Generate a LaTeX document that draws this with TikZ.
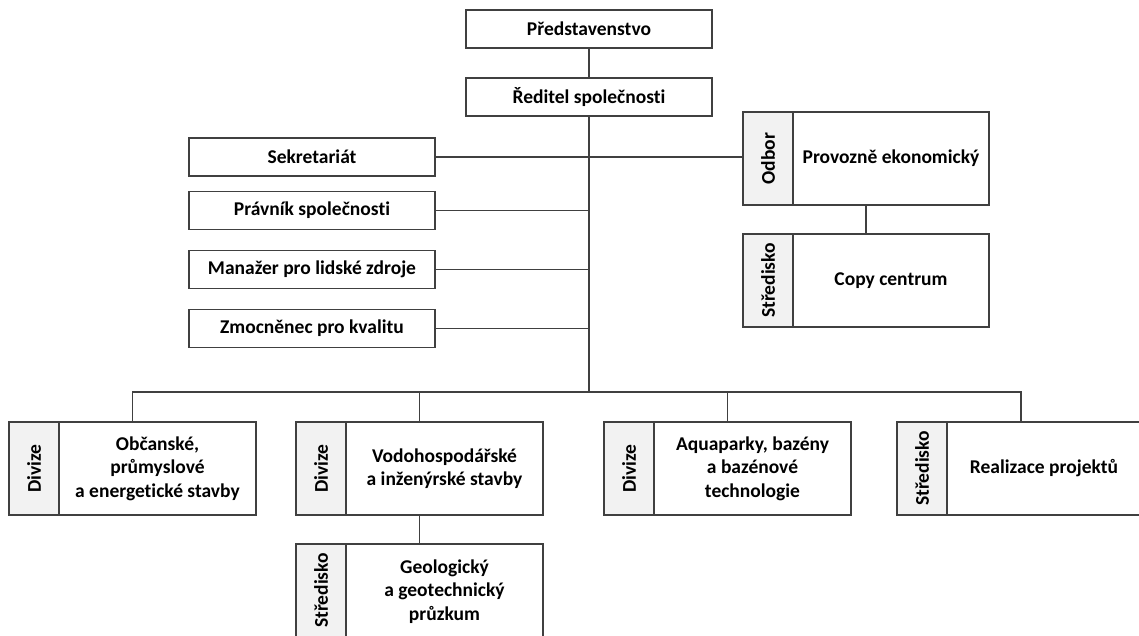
\documentclass[tikz,border=0pt]{standalone}
\usepackage{fontspec}
\setmainfont{Carlito}[Ligatures=NoCommon]
\definecolor{ln}{HTML}{404040}
\definecolor{stripc}{HTML}{F2F2F2}
\begin{document}
\begin{tikzpicture}[x=1pt,y=-1pt,
  every node/.style={font=\bfseries\fontsize{19.5}{23.5}\selectfont, text=black},
  box/.style={draw=ln, line width=1.3pt, fill=white, minimum width=246pt, minimum height=38pt, inner sep=0pt},
  bigbox/.style={draw=ln, line width=1.3pt, fill=white, minimum width=247pt, minimum height=93pt, inner sep=0pt},
  strip/.style={draw=ln, line width=1.3pt, fill=stripc, minimum width=50pt, minimum height=93pt, inner sep=0pt, anchor=north west},
  striptext/.style={rotate=90},
  maintext/.style={align=center, inner sep=0pt},
  conn/.style={draw=ln, line width=1.3pt}
]
\useasboundingbox (0,0) rectangle (1139,635);

% top
\node[box] (pred) at (589,29) {Představenstvo};
\node[box] (red) at (589,97) {Ředitel společnosti};

% staff
\node[box] (sek) at (312,157) {Sekretariát};
\node[box] (prav) at (312,210.5) {Právník společnosti};
\node[box] (man) at (312,269.5) {Manažer pro lidské zdroje};
\node[box] (zmo) at (312,328.5) {Zmocněnec pro kvalitu};

% right branch
\node[bigbox, minimum width=246pt] (odbor) at (866,158.5) {};
\node[strip] (odbors) at (odbor.north west) {};
\node[striptext] at (odbors.center) {Odbor};
\node[maintext] at (891,158.5) {Provozně ekonomický};

\node[bigbox, minimum width=246pt] (copy) at (866,280.5) {};
\node[strip] (copys) at (copy.north west) {};
\node[striptext] at (copys.center) {Středisko};
\node[maintext] at (891,280.5) {Copy centrum};

% divisions
\node[bigbox] (d1) at (132.5,468.5) {};
\node[strip] (d1s) at (d1.north west) {};
\node[striptext] at (d1s.center) {Divize};
\node[maintext] at (157.5,468.5) {Občanské,\\průmyslové\\a energetické stavby};

\node[bigbox] (d2) at (419.5,468.5) {};
\node[strip] (d2s) at (d2.north west) {};
\node[striptext] at (d2s.center) {Divize};
\node[maintext] at (444.5,468.5) {Vodohospodářské\\a inženýrské stavby};

\node[bigbox] (d3) at (727.5,468.5) {};
\node[strip] (d3s) at (d3.north west) {};
\node[striptext] at (d3s.center) {Divize};
\node[maintext] at (752.5,468.5) {Aquaparky, bazény\\a bazénové\\technologie};

\node[bigbox, minimum width=248pt] (d4) at (1021,468.5) {};
\node[strip] (d4s) at (d4.north west) {};
\node[striptext] at (d4s.center) {Středisko};
\node[maintext] at (1044,468.5) {Realizace projektů};

\node[bigbox] (geo) at (419.5,590.5) {};
\node[strip] (geos) at (geo.north west) {};
\node[striptext] at (geos.center) {Středisko};
\node[maintext] at (444.5,591.5) {Geologický\\a geotechnický\\průzkum};

% connectors
\coordinate (bus) at (589,392);
\draw[conn] (pred) -- (red);
\draw[conn] (red.south) -- (bus);
\draw[conn] (sek.east) -- (sek.east -| odbor.west);
\draw[conn] (prav.east) -- (prav.east -| bus);
\draw[conn] (man.east) -- (man.east -| bus);
\draw[conn] (zmo.east) -- (zmo.east -| bus);
\draw[conn] (odbor.south) -- (copy.north);
\draw[conn] (d1.north) |- (bus) -| (d4.north);
\draw[conn] (d2.north) -- (d2.north |- bus);
\draw[conn] (d3.north) -- (d3.north |- bus);
\draw[conn] (d2.south) -- (geo.north);
\end{tikzpicture}
\end{document}
